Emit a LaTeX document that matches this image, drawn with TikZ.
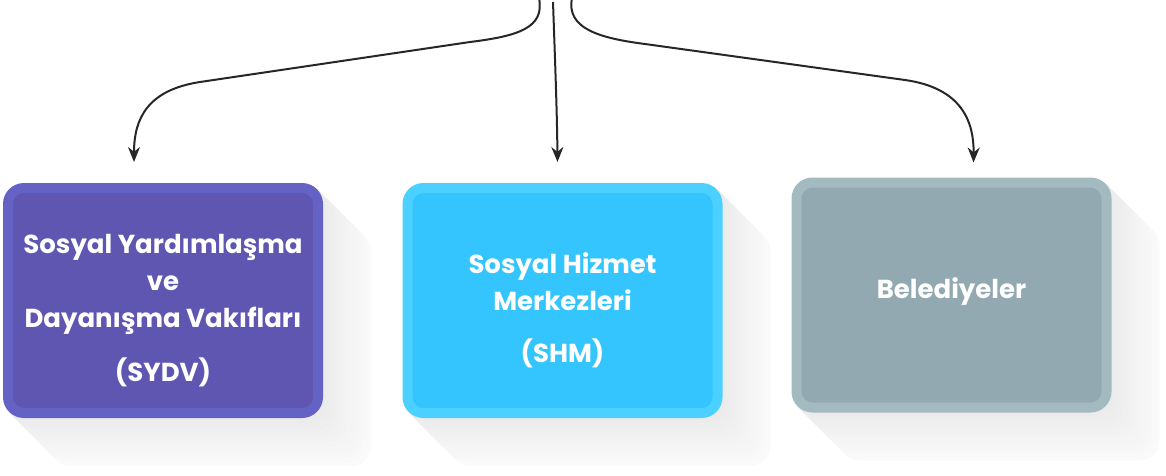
\documentclass[tikz,border=0pt]{standalone}
\usepackage{fontspec}
\setmainfont{Poppins}
\usetikzlibrary{arrows.meta,backgrounds}

\definecolor{sydvRing}{HTML}{6462C4}
\definecolor{sydvFill}{HTML}{5F56B2}
\definecolor{shmRing}{HTML}{4BD0FF}
\definecolor{shmFill}{HTML}{35C5FE}
\definecolor{belRing}{HTML}{A4BAC1}
\definecolor{belFill}{HTML}{93A9B1}

\tikzset{
  kurum/.style={rectangle,rounded corners=16pt,line width=10pt,minimum width=310pt,minimum height=225pt},
  kurumYazi/.style={text=white,font=\bfseries\fontsize{26}{37}\selectfont,align=center},
  ok/.style={-{Stealth[length=15pt,width=12pt]},line width=2pt,black!85},
}

\begin{document}
\begin{tikzpicture}[x=1pt,y=-1pt]
      \useasboundingbox (0,0) rectangle (1166,475);

      % kutular
      \node[kurum,draw=sydvRing,fill=sydvFill] (sydv) at (163,300.5) {};
      \node[kurum,draw=shmRing,fill=shmFill] (shm) at (562.5,300.5) {};
      \node[kurum,draw=belRing,fill=belFill] (bel) at (951.5,295) {};

      \node[kurumYazi] (sydvYazi) at ([yshift=-10]sydv.center) {Sosyal Yardımlaşma\\ve\\Dayanışma Vakıfları\\[17pt](SYDV)};
      \node[kurumYazi] (shmYazi) at ([yshift=-10]shm.center) {Sosyal Hizmet\\Merkezleri\\[15pt](SHM)};
      \node[kurumYazi] (belYazi) at ([yshift=3]bel.center) {Belediyeler};

      % uzun golgeler
      \begin{scope}[on background layer]
         \foreach \k in {sydv,shm,bel}{
            \foreach \d in {48,47,...,1}{
               \pgfmathtruncatemacro\c{4+12*(48-\d)/47}
               \fill[gray!\c,rounded corners=20pt] ([shift={(\d,\d)}]\k.north west) rectangle ([shift={(\d,\d)}]\k.south east);
            }
         }
      \end{scope}

      % oklar
      \coordinate (kaynakSol) at (539,-2);
      \coordinate (kaynakOrta) at (553,2);
      \coordinate (kaynakSag) at (572,-2);

      \draw[ok] (kaynakSol) .. controls (545,28) and (518,36) .. (470,42) -- (200,82) .. controls (148,90) and (134,118) .. ([shift={(-29,-21)}]sydv.north);
      \draw[ok] (kaynakOrta) .. controls (555,60) and (557,110) .. ([shift={(-5,-21)}]shm.north);
      \draw[ok] (kaynakSag) .. controls (566,28) and (598,38) .. (645,44) -- (905,80) .. controls (962,88) and (974,122) .. ([shift={(22,-15)}]bel.north);
\end{tikzpicture}
\end{document}
